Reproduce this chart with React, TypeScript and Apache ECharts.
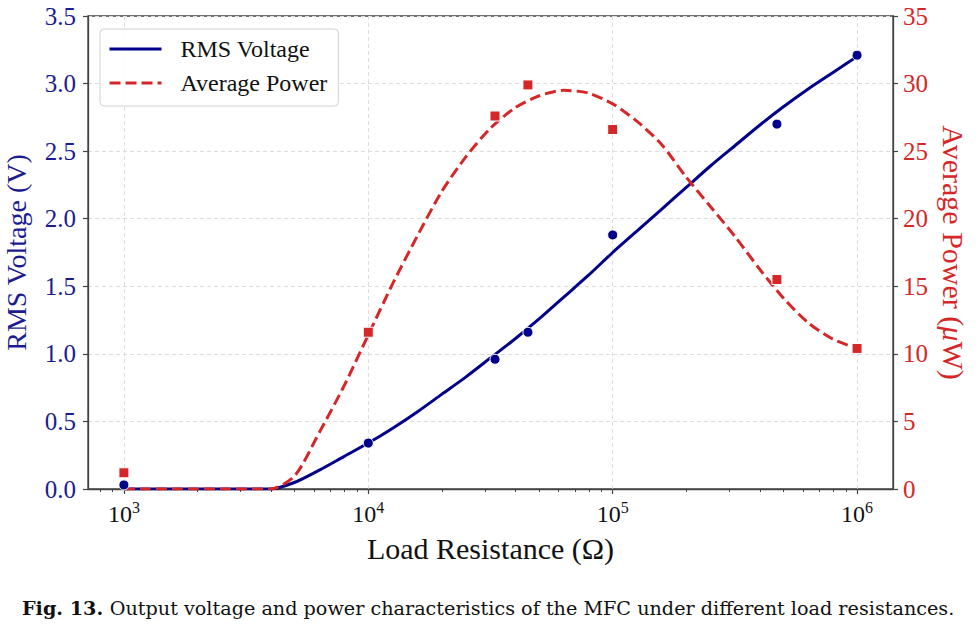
import React, { useEffect, useRef } from "react";
import * as echarts from "echarts";

// measured data points
const measR = [1000, 10000, 33000, 45000, 100000, 470000, 1000000];
const measV = [0.03, 0.34, 0.96, 1.16, 1.88, 2.7, 3.21];
const measP = [1.2, 11.6, 27.6, 29.9, 26.6, 15.5, 10.4];

// sample positions of the fitted curves (0.1-decade steps)
const fitR = [
  1000, 1259, 1585, 1995, 2512, 3162, 3981, 5012, 6310, 7943,
  10000, 12589, 15849, 19953, 25119, 31623, 39811, 50119, 63096, 79433,
  100000, 125893, 158489, 199526, 251189, 316228, 398107, 501187, 630957, 794328,
  1000000,
];
// fitted voltage curve (V)
const fitV = [
  0, 0, 0, 0, 0, 0, 0, 0.05, 0.14, 0.24,
  0.34, 0.45, 0.57, 0.7, 0.83, 0.97, 1.11, 1.26, 1.42, 1.58,
  1.75, 1.91, 2.07, 2.23, 2.39, 2.54, 2.69, 2.83, 2.96, 3.08,
  3.2,
];
// fitted power curve (µW)
const fitP = [
  0, 0, 0, 0, 0, 0, 0, 1.0, 4.2, 7.6,
  11.4, 15.2, 18.7, 22.0, 24.6, 26.7, 28.2, 29.1, 29.5, 29.3,
  28.5, 27.2, 25.5, 23.1, 20.9, 18.7, 16.3, 14.1, 12.3, 11.1,
  10.4,
];

const majorTicks = [1000, 10000, 100000, 1000000];
const minorTicks = [800, 900, 2000, 3000, 4000, 5000, 6000, 7000, 8000, 9000, 20000, 30000, 40000, 50000, 60000, 70000, 80000, 90000, 200000, 300000, 400000, 500000, 600000, 700000, 800000, 900000];

const xMin = 713;
const xMax = 1403000;

const NAVY = "#00008b";
const NAVY_T = "#1c1c90";
const RED = "#d62728";
const AX = "#444444";
const FONT = "'Liberation Serif', 'Times New Roman', serif";

function zip(a: number[], b: number[]) {
  return a.map((v, i) => [v, b[i]]);
}

export default function App() {
  const ref = useRef<HTMLDivElement>(null);
  useEffect(() => {
    document.body.style.margin = "0";
    const chart = echarts.init(ref.current!, null, { renderer: "svg" });
    const isPow = (v: number) => {
      const l = Math.log10(v);
      return Math.abs(l - Math.round(l)) < 1e-6;
    };
    chart.setOption({
      animation: false,
      backgroundColor: "#ffffff",
      grid: {
        left: 88,
        right: 85,
        top: 16,
        bottom: 141,
        outerBoundsMode: "none",
        containLabel: false,
        show: true,
        borderColor: AX,
        borderWidth: 1.3,
      },
      legend: {
        orient: "vertical",
        left: 100,
        top: 29,
        itemWidth: 52,
        itemHeight: 14,
        itemGap: 10,
        padding: [8, 11, 11, 8],
        borderColor: "#d0d0d0",
        borderWidth: 1,
        borderRadius: 4,
        backgroundColor: "rgba(255,255,255,0.85)",
        itemStyle: { color: "rgba(0,0,0,0)", borderWidth: 0, opacity: 0 },
        lineStyle: { width: 3 },
        textStyle: { fontFamily: FONT, fontSize: 24, color: "#111", padding: [0, 0, 0, 14] },
        data: ["RMS Voltage", "Average Power"],
      },
      xAxis: [
        {
          type: "log",
          logBase: 10,
          min: xMin,
          max: xMax,
          position: "bottom",
          axisLine: { show: true, lineStyle: { color: AX, width: 1.3 } },
          axisTick: { show: true, length: 5, lineStyle: { color: AX, width: 1.2 }, customValues: majorTicks },
          axisLabel: {
            customValues: majorTicks,
            margin: 10,
            formatter: (v: number) => (isPow(v) ? `{b|10}{s|${Math.round(Math.log10(v))}}` : ""),
            rich: {
              b: { fontFamily: FONT, fontSize: 24, color: "#111" },
              s: { fontFamily: FONT, fontSize: 16, color: "#111", padding: [0, 0, 14, 0] },
            },
          },
          splitLine: { show: true, lineStyle: { color: "#dddddd", type: [4, 3], width: 1 } },
          minorTick: { show: false },
          name: "Load Resistance (Ω)",
          nameLocation: "middle",
          nameGap: 44,
          nameTextStyle: { fontFamily: FONT, fontSize: 30, color: "#111" },
        },
        {
          type: "log",
          logBase: 10,
          min: xMin,
          max: xMax,
          position: "bottom",
          axisLine: { show: false },
          axisTick: { show: true, length: 3, lineStyle: { color: AX, width: 1 }, customValues: minorTicks },
          axisLabel: { show: false },
          splitLine: { show: false },
        },
      ],
      yAxis: [
        {
          type: "value",
          min: 0,
          max: 3.5,
          interval: 0.5,
          position: "left",
          axisLine: { show: true, lineStyle: { color: AX, width: 1.3 } },
          axisTick: { show: true, length: 5, lineStyle: { color: AX, width: 1.2 } },
          axisLabel: {
            formatter: (v: number) => v.toFixed(1),
            fontFamily: FONT,
            fontSize: 25,
            color: NAVY_T,
            margin: 12,
          },
          splitLine: { show: true, lineStyle: { color: "#dddddd", type: [4, 3], width: 1 } },
          name: "RMS Voltage (V)",
          nameLocation: "middle",
          nameGap: 58,
          nameRotate: 90,
          nameTextStyle: { fontFamily: FONT, fontSize: 28, color: NAVY_T },
        },
        {
          type: "value",
          min: 0,
          max: 35,
          interval: 5,
          position: "right",
          axisLine: { show: true, lineStyle: { color: AX, width: 1.3 } },
          axisTick: { show: true, length: 5, lineStyle: { color: AX, width: 1.2 } },
          axisLabel: { fontFamily: FONT, fontSize: 25, color: RED, margin: 10 },
          splitLine: { show: false },
          name: "{n|Average Power (}{i|μ}{n|W)}",
          nameLocation: "middle",
          nameGap: 45,
          nameRotate: -90,
          nameTextStyle: {
            rich: {
              n: { fontFamily: FONT, fontSize: 30, color: RED },
              i: { fontFamily: FONT, fontSize: 30, color: RED, fontStyle: "italic" },
            },
          },
        },
      ],
      series: [
        {
          name: "RMS Voltage",
          type: "line",
          xAxisIndex: 0,
          yAxisIndex: 0,
          data: zip(fitR, fitV),
          smooth: 0.25,
          symbol: "none",
          lineStyle: { color: NAVY, width: 3 },
          itemStyle: { color: NAVY },
          z: 2,
        },
        {
          name: "Average Power",
          type: "line",
          xAxisIndex: 0,
          yAxisIndex: 1,
          data: zip(fitR, fitP),
          smooth: 0.25,
          symbol: "none",
          lineStyle: { color: RED, width: 3, type: [11, 5] },
          itemStyle: { color: RED },
          z: 2,
        },
        {
          name: "V meas",
          type: "scatter",
          xAxisIndex: 0,
          yAxisIndex: 0,
          data: zip(measR, measV),
          symbol: "circle",
          symbolSize: 10,
          itemStyle: { color: NAVY, opacity: 1, borderColor: "#fff", borderWidth: 1 },
          z: 5,
        },
        {
          name: "P meas",
          type: "scatter",
          xAxisIndex: 0,
          yAxisIndex: 1,
          data: zip(measR, measP),
          symbol: "rect",
          symbolSize: 10,
          itemStyle: { color: RED, opacity: 1, borderColor: "#fff", borderWidth: 1 },
          z: 5,
        },
      ],
      graphic: [
        {
          type: "text",
          left: 22,
          top: 599,
          style: {
            text: "{b|Fig. 13.}  {n|Output voltage and power characteristics of the MFC under different load resistances.}",
            rich: {
              b: { fontFamily: "DejaVu Serif", fontSize: 19.2, fontWeight: "bold", fill: "#111" },
              n: { fontFamily: "DejaVu Serif", fontSize: 19.2, fill: "#111" },
            },
          },
        },
      ],
    });
    return () => chart.dispose();
  }, []);
  return <div ref={ref} style={{ width: 978, height: 630 }} />;
}
